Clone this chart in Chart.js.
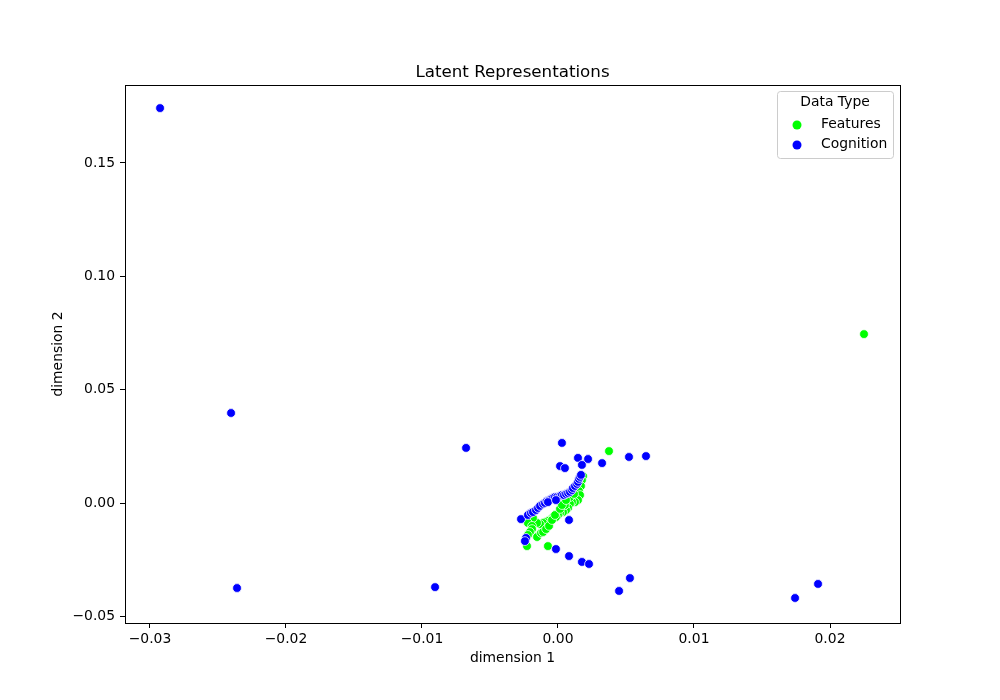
<!DOCTYPE html>
<html>
<head>
<meta charset="utf-8">
<script src="https://cdn.jsdelivr.net/npm/chart.js@4.4.0/dist/chart.umd.min.js"></script>
<style>
html,body{margin:0;padding:0;background:#fff;}
canvas{display:block;}
</style>
</head>
<body>
<canvas id="c" width="1000" height="700"></canvas>
<script>
// ---- Data ----
const chartTitle = "Latent Representations";
const xAxisTitle = "dimension 1";
const yAxisTitle = "dimension 2";
const legendTitle = "Data Type";
const seriesNames = ["Features", "Cognition"];

const featuresX = [0.02250, 0.00375, -0.00228, -0.00074, 0.00184, 0.00176, 0.00169, 0.00154, 0.00162, 0.00147,
  0.00125, 0.00103, 0.00088, 0.00074, 0.00059, 0.00037, 0.00015, 0.00000, -0.00015, -0.00037,
  -0.00059, -0.00074, -0.00096, -0.00110, -0.00132, -0.00154, -0.00184, -0.00221, -0.00191, -0.00191,
  -0.00206, -0.00221, -0.00154, -0.00125, -0.00110, -0.00088, -0.00066, -0.00044, -0.00022, 0.00015,
  0.00051, 0.00088, 0.00118, 0.00029, 0.00059, -0.00125];
const featuresY = [0.0745, 0.0229, -0.0190, -0.0190, 0.0119, 0.0101, 0.0075, 0.0053, 0.0035, 0.0013,
  0.0004, 0.0004, -0.0004, -0.0022, -0.0031, -0.0040, -0.0044, -0.0053, -0.0062, -0.0062,
  -0.0075, -0.0079, -0.0084, -0.0088, -0.0093, -0.0088, -0.0066, -0.0088, -0.0101, -0.0115,
  -0.0128, -0.0141, -0.0150, -0.0132, -0.0128, -0.0115, -0.0101, -0.0075, -0.0053, -0.0026,
  -0.0009, 0.0026, 0.0040, -0.0009, 0.0013, -0.0009];

const cognitionX = [-0.02926, -0.02404, -0.02360, -0.00904, -0.00676, 0.00029, 0.00015, 0.00051, 0.00147, 0.00221,
  0.00176, 0.00324, 0.00522, 0.00647, 0.00081, -0.00272, -0.00235, -0.00243, -0.00015, 0.00081,
  0.00176, 0.00228, 0.00529, 0.00449, 0.01743, 0.01912,
  -0.00221, -0.00199, -0.00184, -0.00162, -0.00147, -0.00132, -0.00110, -0.00096, -0.00081, -0.00066,
  -0.00051, -0.00037, -0.00022, -0.00007, 0.00015, 0.00029, 0.00044, 0.00059, 0.00074, 0.00088,
  0.00103, 0.00110, 0.00125, 0.00140, 0.00147, 0.00154, 0.00162, 0.00169, -0.00074, -0.00015];
const cognitionY = [0.1742, 0.0397, -0.0375, -0.0371, 0.0243, 0.0265, 0.0163, 0.0154, 0.0199, 0.0194,
  0.0168, 0.0176, 0.0203, 0.0207, -0.0075, -0.0071, -0.0154, -0.0168, -0.0203, -0.0234,
  -0.0260, -0.0269, -0.0331, -0.0388, -0.0419, -0.0357,
  -0.0053, -0.0044, -0.0040, -0.0031, -0.0022, -0.0013, -0.0004, 0.0000, 0.0009, 0.0013,
  0.0018, 0.0022, 0.0026, 0.0026, 0.0031, 0.0035, 0.0035, 0.0040, 0.0044, 0.0049,
  0.0057, 0.0066, 0.0075, 0.0084, 0.0093, 0.0106, 0.0115, 0.0124, 0.0004, 0.0013];

const xTickValues = [-0.03, -0.02, -0.01, 0.00, 0.01, 0.02];
const xTickLabels = ["\u22120.03", "\u22120.02", "\u22120.01", "0.00", "0.01", "0.02"];
const yTickValues = [-0.05, 0.00, 0.05, 0.10, 0.15];
const yTickLabels = ["\u22120.05", "0.00", "0.05", "0.10", "0.15"];

const xRange = [-0.031838, 0.025147];
const yRange = [-0.05293, 0.18438];

// ---- Build ----
const colFeatures = "#00ff00";
const colCognition = "#0000ff";
const FONT = "'DejaVu Sans', sans-serif";

function pts(xs, ys){ return xs.map((x,i)=>({x:x, y:ys[i]})); }

const decor = {
  id: 'decor',
  afterDraw(chart){
    const ctx = chart.ctx, a = chart.chartArea;
    ctx.save();
    // frame
    ctx.strokeStyle = '#000'; ctx.lineWidth = 1;
    ctx.strokeRect(Math.round(a.left)+0.5, Math.round(a.top)+0.5, Math.round(a.right-a.left), Math.round(a.bottom-a.top));
    // title
    ctx.fillStyle = '#000';
    ctx.textAlign = 'center'; ctx.textBaseline = 'alphabetic';
    ctx.font = "16.7px " + FONT;
    ctx.fillText(chartTitle, (a.left+a.right)/2, 77);
    // axis titles
    ctx.font = "13.9px " + FONT;
    ctx.textBaseline = 'middle';
    ctx.fillText(xAxisTitle, (a.left+a.right)/2, 658);
    ctx.save();
    ctx.translate(58, (a.top+a.bottom)/2);
    ctx.rotate(-Math.PI/2);
    ctx.fillText(yAxisTitle, 0, 0);
    ctx.restore();
    // legend box
    const bx = 777.5, by = 91.5, bw = 116, bh = 67, r = 3;
    ctx.beginPath();
    ctx.moveTo(bx+r, by); ctx.lineTo(bx+bw-r, by); ctx.arcTo(bx+bw, by, bx+bw, by+r, r);
    ctx.lineTo(bx+bw, by+bh-r); ctx.arcTo(bx+bw, by+bh, bx+bw-r, by+bh, r);
    ctx.lineTo(bx+r, by+bh); ctx.arcTo(bx, by+bh, bx, by+bh-r, r);
    ctx.lineTo(bx, by+r); ctx.arcTo(bx, by, bx+r, by, r);
    ctx.closePath();
    ctx.fillStyle = 'rgba(255,255,255,0.8)'; ctx.fill();
    ctx.strokeStyle = '#cccccc'; ctx.stroke();
    ctx.fillStyle = '#000';
    ctx.textAlign = 'center';
    ctx.fillText(legendTitle, 835, 102);
    const cols = [colFeatures, colCognition];
    seriesNames.forEach((n,i)=>{
      const yy = 124 + i*20;
      ctx.beginPath(); ctx.arc(797, yy+1, 4.5, 0, Math.PI*2);
      ctx.fillStyle = cols[i]; ctx.fill();
      ctx.fillStyle = '#000'; ctx.textAlign = 'left';
      ctx.fillText(n, 821, yy);
    });
    ctx.restore();
  }
};

new Chart(document.getElementById('c'), {
  type: 'scatter',
  data: {
    datasets: [
      { label: seriesNames[1], data: pts(cognitionX, cognitionY), backgroundColor: colCognition,
        borderColor: '#ffffff', borderWidth: 0.75, pointRadius: 4.4 },
      { label: seriesNames[0], data: pts(featuresX, featuresY), backgroundColor: colFeatures,
        borderColor: '#ffffff', borderWidth: 0.75, pointRadius: 4.4 }
    ]
  },
  options: {
    responsive: false, animation: false, devicePixelRatio: 1,
    layout: { padding: { top: 85, right: 100, left: 0, bottom: 0 } },
    plugins: { legend: { display: false }, tooltip: { enabled: false }, title: { display: false } },
    scales: {
      x: {
        type: 'linear', min: xRange[0], max: xRange[1],
        afterBuildTicks(s){ s.ticks = xTickValues.map(v=>({value:v})); },
        afterFit(s){ s.height = 77; },
        grid: { drawOnChartArea: false, drawTicks: true, tickLength: 5, color: '#000', tickColor: '#000' },
        border: { display: false },
        ticks: { color: '#000', font: { family: FONT, size: 13.9 }, padding: 3, maxRotation: 0, autoSkip: false,
          callback(v){ const i = xTickValues.findIndex(t=>Math.abs(t-v)<1e-9); return i>=0 ? xTickLabels[i] : ''; } }
      },
      y: {
        type: 'linear', min: yRange[0], max: yRange[1],
        afterBuildTicks(s){ s.ticks = yTickValues.map(v=>({value:v})); },
        afterFit(s){ s.width = 125; },
        grid: { drawOnChartArea: false, drawTicks: true, tickLength: 5, color: '#000', tickColor: '#000' },
        border: { display: false },
        ticks: { color: '#000', font: { family: FONT, size: 13.9 }, padding: 5, autoSkip: false,
          callback(v){ const i = yTickValues.findIndex(t=>Math.abs(t-v)<1e-9); return i>=0 ? yTickLabels[i] : ''; } }
      }
    }
  },
  plugins: [decor]
});
</script>
</body>
</html>
